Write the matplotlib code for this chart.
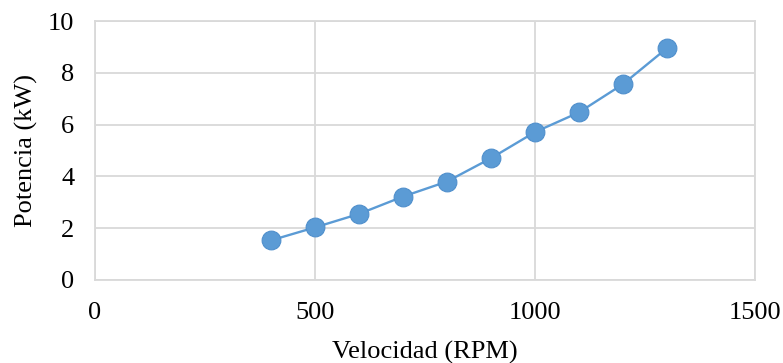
import matplotlib
matplotlib.use('Agg')
import matplotlib.pyplot as plt

# Data
velocidad = [400, 500, 600, 700, 800, 900, 1000, 1100, 1200, 1300]
potencia = [1.53, 2.03, 2.55, 3.22, 3.80, 4.70, 5.71, 6.47, 7.56, 8.95]
x_ticks = [0, 500, 1000, 1500]
y_ticks = [0, 2, 4, 6, 8, 10]

plt.rcParams['font.family'] = ['Liberation Serif', 'DejaVu Serif']

fig = plt.figure(figsize=(7.83, 3.63), dpi=100)
ax = fig.add_axes([0.1213, 0.2287, 0.8427, 0.7133])

grid_color = '#d9d9d9'
ax.plot(velocidad, potencia, color='#5b9bd5', linewidth=1.7,
        marker='o', markersize=13.5, markerfacecolor='#5b9bd5',
        markeredgecolor='#4f8fcc', markeredgewidth=0.8, zorder=3)

ax.set_xlim(0, 1500)
ax.set_ylim(0, 10)
ax.set_xticks(x_ticks)
ax.set_yticks(y_ticks)
ax.grid(True, color=grid_color, linewidth=1.3)
ax.set_axisbelow(True)
for s in ax.spines.values():
    s.set_color(grid_color)
    s.set_linewidth(1.3)
ax.tick_params(length=0, labelsize=19, colors='#000000')
ax.tick_params(axis='x', pad=16)
ax.tick_params(axis='y', pad=15)

ax.set_xlabel('Velocidad (RPM)', fontsize=19, labelpad=12)
ax.set_ylabel('Potencia (kW)', fontsize=19, labelpad=7)

fig.savefig('out.png', dpi=100, facecolor='white')
